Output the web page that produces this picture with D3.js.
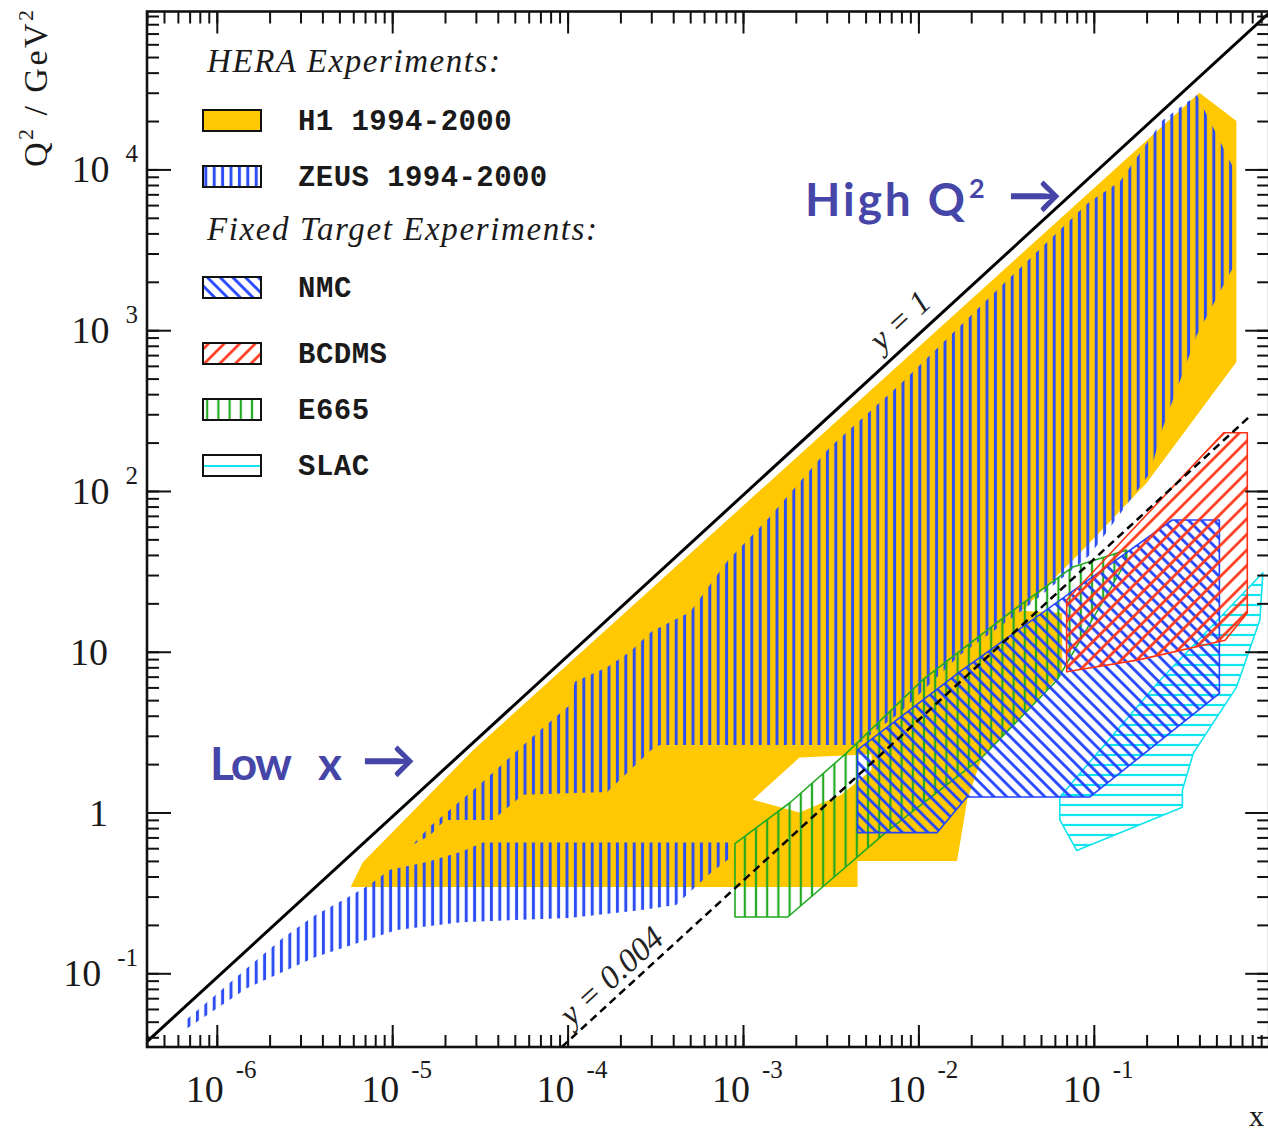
<!DOCTYPE html>
<html>
<head>
<meta charset="utf-8">
<script src="https://cdn.jsdelivr.net/npm/d3@7"></script>
<style>
  html, body { margin: 0; padding: 0; background: #ffffff; }
  svg { display: block; }
</style>
</head>
<body>
<svg id="chart" width="1268" height="1131"></svg>
<script>
// ---------------- kinematic plane data (x, Q^2 in GeV^2) ----------------
const xMajorTicks = [1e-6, 1e-5, 1e-4, 1e-3, 1e-2, 1e-1];
const xTickExponents = ["-6", "-5", "-4", "-3", "-2", "-1"];
const yMajorTicks = [0.1, 1, 10, 100, 1000, 10000];
const yTickBases = ["10", "1", "10", "10", "10", "10"];
const yTickExponents = ["-1", "", "", "2", "3", "4"];

// H1 1994-2000 coverage (outer boundary) and the uncovered pocket inside it
const h1Region = [
  [5.8e-6, 0.344], [6.8e-6, 0.49], [2.9e-5, 2.45], [0.40, 30000], [0.65, 20000],
  [0.65, 635], [0.20, 112], [0.083, 41], [0.039, 18], [0.066, 17.4], [0.066, 7.4],
  [0.023, 2.2], [0.019, 1.2], [0.0166, 0.5], [4.5e-3, 0.5], [4.5e-3, 0.344]
];
const h1Gap = [
  [1.14e-3, 1.2], [2.1e-3, 2.2], [5.4e-3, 2.3], [5.4e-3, 1.84], [3.6e-3, 1.28], [2.1e-3, 1.0]
];

// ZEUS 1994-2000: low-Q2 (beam pipe tracker) and main coverage
const zeusLowQ2 = [
  [6.5e-7, 0.046], [6.5e-7, 0.050], [9.8e-7, 0.073], [1.49e-6, 0.108], [2.38e-6, 0.166],
  [3.63e-6, 0.23], [5.5e-6, 0.294], [7.4e-6, 0.354], [9.7e-6, 0.44], [1.56e-5, 0.49],
  [2.47e-5, 0.57], [3.3e-5, 0.65], [8.4e-4, 0.65], [8.4e-4, 0.52], [6.7e-4, 0.43],
  [5.5e-4, 0.354], [4.15e-4, 0.266], [2.58e-4, 0.247], [1.02e-4, 0.221], [2.47e-5, 0.208],
  [1.06e-5, 0.186], [3.63e-6, 0.126], [1.49e-6, 0.081], [6.5e-7, 0.044]
];
const zeusHighQ2 = [
  [1.31e-5, 0.63], [1.64e-5, 0.82], [2.22e-5, 1.08], [3.04e-5, 1.44], [4.51e-5, 2.12],
  [6.68e-5, 3.12], [1.03e-4, 4.67], [1.10e-4, 6.5], [1.68e-4, 8.0], [2.27e-4, 10],
  [3.0e-4, 13.3], [5.0e-4, 17.7], [5.5e-4, 20.4], [8.2e-4, 37], [1.37e-3, 66],
  [3.1e-3, 185], [7.9e-3, 463], [3.1e-2, 1970], [9.3e-2, 6200], [0.141, 8400],
  [0.248, 20300], [0.387, 29000], [0.646, 9500], [0.646, 2660], [0.387, 934],
  [0.248, 250], [0.209, 129], [0.095, 40], [0.043, 19.5], [0.0172, 9.5],
  [7.9e-3, 4.2], [4.46e-3, 2.63], [3.36e-4, 2.63], [3.0e-4, 2.45], [1.68e-4, 1.34],
  [5.56e-5, 1.29], [3.75e-5, 0.90], [2.0e-5, 0.90], [1.64e-5, 0.72], [1.31e-5, 0.63]
];

// fixed target experiments
const nmcRegion = [
  [4.5e-3, 2.45], [0.0172, 7.5], [0.28, 66], [0.52, 66], [0.52, 5.5],
  [0.095, 1.25], [0.0189, 1.25], [0.0128, 0.75], [4.5e-3, 0.75]
];
const bcdmsRegion = [
  [0.07, 21], [0.55, 230], [0.75, 230], [0.75, 17.4], [0.56, 11.8], [0.18, 8.9], [0.07, 7.5]
];
const e665Region = [
  [9.0e-4, 0.224], [9.0e-4, 0.64], [1.85e-3, 1.15], [3.9e-3, 2.35], [0.0106, 6.7],
  [0.033, 17.4], [0.076, 33.7], [0.154, 43], [0.154, 37], [0.062, 6.7],
  [0.023, 2.2], [6.6e-3, 0.76], [1.8e-3, 0.224]
];
const slacRegion = [
  [0.064, 1.25], [0.24, 6.7], [0.92, 31], [0.885, 15.8], [0.65, 6.0],
  [0.37, 2.35], [0.32, 1.38], [0.32, 1.08], [0.08, 0.58], [0.064, 0.9]
];

// inelasticity limits y = 1 and y = 0.004
const yOneLine = [[4e-7, 0.0376], [1, 94000]];
const yLowLine = [[9.26e-5, 0.0348], [0.78, 293]];

const legendLabels = ["H1 1994-2000", "ZEUS 1994-2000", "NMC", "BCDMS", "E665", "SLAC"];
const legendHeadings = ["HERA Experiments:", "Fixed Target Experiments:"];

// ---------------- layout ----------------
const frame = { left: 147, right: 1269.2, top: 11.5, bottom: 1047 };
const x = d3.scaleLog().domain([4e-7, 1]).range([frame.left, frame.right]);
const y = d3.scaleLog().domain([0.0348, 96000]).range([frame.bottom, frame.top]);

const colors = {
  h1: "#ffc800", zeus: "#2d4ef2", nmc: "#2244ff", bcdms: "#ff3214",
  e665: "#22aa22", slac: "#10e4ee", note: "#4646a8", ink: "#1a1a1a"
};
const serif = "'Liberation Serif', 'Times New Roman', serif";
const mono = "'Liberation Mono', 'Courier New', monospace";

const svg = d3.select("#chart");
const defs = svg.append("defs");

function addHatch(id, color, spacing, width, angle) {
  const p = defs.append("pattern")
    .attr("id", id)
    .attr("patternUnits", "userSpaceOnUse")
    .attr("width", spacing).attr("height", spacing)
    .attr("patternTransform", `rotate(${angle})`);
  p.append("line")
    .attr("x1", spacing / 2).attr("x2", spacing / 2)
    .attr("y1", -2).attr("y2", spacing + 2)
    .attr("stroke", color).attr("stroke-width", width);
}
addHatch("zeusHatch", colors.zeus, 8.4, 3, 0);
addHatch("e665Hatch", colors.e665, 11.2, 2.2, 0);
addHatch("nmcHatch", colors.nmc, 9, 2.8, -45);
addHatch("bcdmsHatch", colors.bcdms, 11, 2.6, 45);
addHatch("slacHatch", colors.slac, 10, 2.2, 90);

defs.append("clipPath").attr("id", "plotClip")
  .append("rect")
  .attr("x", frame.left).attr("y", frame.top)
  .attr("width", frame.right - frame.left)
  .attr("height", frame.bottom - frame.top);

const line = d3.line().x(d => x(d[0])).y(d => y(d[1]));
const closed = pts => line(pts) + "Z";

const plot = svg.append("g").attr("clip-path", "url(#plotClip)");

// H1 coverage with its uncovered pocket
plot.append("path")
  .attr("d", closed(h1Region) + closed(h1Gap))
  .attr("fill-rule", "evenodd")
  .attr("fill", colors.h1);

// ZEUS coverage (vertical hatching)
[zeusLowQ2, zeusHighQ2].forEach(reg => {
  plot.append("path").attr("d", closed(reg)).attr("fill", "url(#zeusHatch)");
});

// fixed target regions
const fixedTarget = [
  { pts: slacRegion, fill: "url(#slacHatch)", stroke: colors.slac },
  { pts: e665Region, fill: "url(#e665Hatch)", stroke: colors.e665 },
  { pts: nmcRegion, fill: "url(#nmcHatch)", stroke: colors.nmc },
  { pts: bcdmsRegion, fill: "url(#bcdmsHatch)", stroke: colors.bcdms }
];
fixedTarget.forEach(r => {
  plot.append("path")
    .attr("d", closed(r.pts))
    .attr("fill", r.fill)
    .attr("stroke", r.stroke)
    .attr("stroke-width", 1.6)
    .attr("stroke-linejoin", "round");
});

// kinematic limits
plot.append("path").attr("d", line(yOneLine))
  .attr("fill", "none").attr("stroke", "#000").attr("stroke-width", 3);
plot.append("path").attr("d", line(yLowLine))
  .attr("fill", "none").attr("stroke", "#000").attr("stroke-width", 2.5)
  .attr("stroke-dasharray", "8,5");

// labels along the limit lines
function lineLabel(pts, xAt, text, offset, size) {
  const [p0, p1] = pts;
  const ang = Math.atan2(y(p1[1]) - y(p0[1]), x(p1[0]) - x(p0[0])) * 180 / Math.PI;
  const slope = Math.log(p1[1] / p0[1]) / Math.log(p1[0] / p0[0]);
  const q = p0[1] * Math.pow(xAt / p0[0], slope);
  svg.append("text")
    .attr("transform", `translate(${x(xAt)},${y(q)}) rotate(${ang}) translate(0,${-offset})`)
    .attr("text-anchor", "middle")
    .attr("font-family", serif).attr("font-style", "italic")
    .attr("font-size", size).attr("fill", "#222")
    .text(text);
}
lineLabel(yOneLine, 9.6e-3, "y = 1", 12, 33);
lineLabel(yLowLine, 2.1e-4, "y = 0.004", 8, 33);

// ---------------- axes: ticks on all four sides, pointing inward ----------------
const xMinor = x.ticks();
const yMinor = y.ticks();
function drawTicks(axisGen, scale, vals, size, tx, ty) {
  const g = svg.append("g")
    .attr("transform", `translate(${tx},${ty})`)
    .call(axisGen(scale).tickValues(vals).tickSize(-size).tickFormat(""));
  g.select(".domain").remove();
  g.selectAll("line").attr("stroke", "#111").attr("stroke-width", 2);
}
[[xMinor, 12], [xMajorTicks, 22]].forEach(([v, s]) => {
  drawTicks(d3.axisBottom, x, v, s, 0, frame.bottom);
  drawTicks(d3.axisTop, x, v, s, 0, frame.top);
});
[[yMinor, 12], [yMajorTicks, 24]].forEach(([v, s]) => {
  drawTicks(d3.axisLeft, y, v, s, frame.left, 0);
  drawTicks(d3.axisRight, y, v, s, frame.right, 0);
});

svg.append("rect")
  .attr("x", frame.left).attr("y", frame.top)
  .attr("width", frame.right - frame.left).attr("height", frame.bottom - frame.top)
  .attr("fill", "none").attr("stroke", "#111").attr("stroke-width", 2.6);

// tick labels
xMajorTicks.forEach((v, i) => {
  const t = svg.append("text")
    .attr("x", x(v) - 31).attr("y", 1102)
    .attr("font-family", serif).attr("font-size", 38).attr("fill", colors.ink);
  t.append("tspan").text("10");
  t.append("tspan").attr("dx", 12).attr("dy", -24).attr("font-size", 25).text(xTickExponents[i]);
});
yMajorTicks.forEach((v, i) => {
  const hasExp = yTickExponents[i] !== "";
  const t = svg.append("text")
    .attr("x", hasExp ? 138 : 108).attr("y", y(v) + 13)
    .attr("text-anchor", "end")
    .attr("font-family", serif).attr("font-size", 38).attr("fill", colors.ink);
  t.append("tspan").text(yTickBases[i]);
  if (hasExp) {
    t.append("tspan").attr("dx", 16).attr("dy", -20).attr("font-size", 25).text(yTickExponents[i]);
  }
});

// axis titles
svg.append("text")
  .attr("x", 1249).attr("y", 1126)
  .attr("font-family", serif).attr("font-size", 30).attr("fill", colors.ink)
  .text("x");
const yTitle = svg.append("text")
  .attr("transform", "translate(47,167) rotate(-90)")
  .attr("font-family", serif).attr("font-size", 34).attr("fill", colors.ink)
  .attr("textLength", 157).attr("lengthAdjust", "spacing");
yTitle.append("tspan").text("Q");
yTitle.append("tspan").attr("dy", -14).attr("font-size", 22).text("2");
yTitle.append("tspan").attr("dy", 14).text(" / GeV");
yTitle.append("tspan").attr("dy", -14).attr("font-size", 22).text("2");

// ---------------- legend ----------------
const headingY = [72, 240];
const headingLen = [293, 390];
legendHeadings.forEach((h, i) => {
  svg.append("text")
    .attr("x", 207).attr("y", headingY[i])
    .attr("font-family", serif).attr("font-style", "italic")
    .attr("font-size", 33).attr("fill", colors.ink)
    .attr("textLength", headingLen[i]).attr("lengthAdjust", "spacing")
    .text(h);
});
const legendBaselines = [130, 186, 297, 363, 419, 475];
const legendFills = [colors.h1, "url(#zeusHatch)", "url(#nmcHatch)", "url(#bcdmsHatch)", "url(#e665Hatch)", "#fff"];
legendLabels.forEach((lab, i) => {
  const by = legendBaselines[i] - 20;
  svg.append("rect")
    .attr("x", 203).attr("y", by).attr("width", 58).attr("height", 21)
    .attr("fill", legendFills[i]).attr("stroke", "#111").attr("stroke-width", 2);
  if (lab === "SLAC") {
    svg.append("line")
      .attr("x1", 204).attr("x2", 260).attr("y1", by + 11).attr("y2", by + 11)
      .attr("stroke", colors.slac).attr("stroke-width", 2);
  }
  svg.append("text")
    .attr("x", 298).attr("y", legendBaselines[i])
    .attr("font-family", mono).attr("font-weight", "bold")
    .attr("font-size", 29).attr("fill", colors.ink)
    .attr("textLength", lab.length * 17.8).attr("lengthAdjust", "spacing")
    .text(lab);
});

// ---------------- annotations ----------------
const noteFont = "Lato, 'DejaVu Sans', sans-serif";
function note(xp, yp, text, size, len) {
  const t = svg.append("text")
    .attr("x", xp).attr("y", yp)
    .attr("font-family", noteFont).attr("font-weight", "bold")
    .attr("font-size", size).attr("fill", colors.note)
    .text(text);
  if (len) t.attr("textLength", len).attr("lengthAdjust", "spacing");
  return t;
}
note(805, 216, "High Q", 46, 160);
note(969, 198, "2", 27);
note(1008, 214, "\u2192", 54);
note(210, 780, "Low", 46, 82);
note(318, 780, "x", 46);
note(362, 779, "\u2192", 54);
</script>
</body>
</html>
